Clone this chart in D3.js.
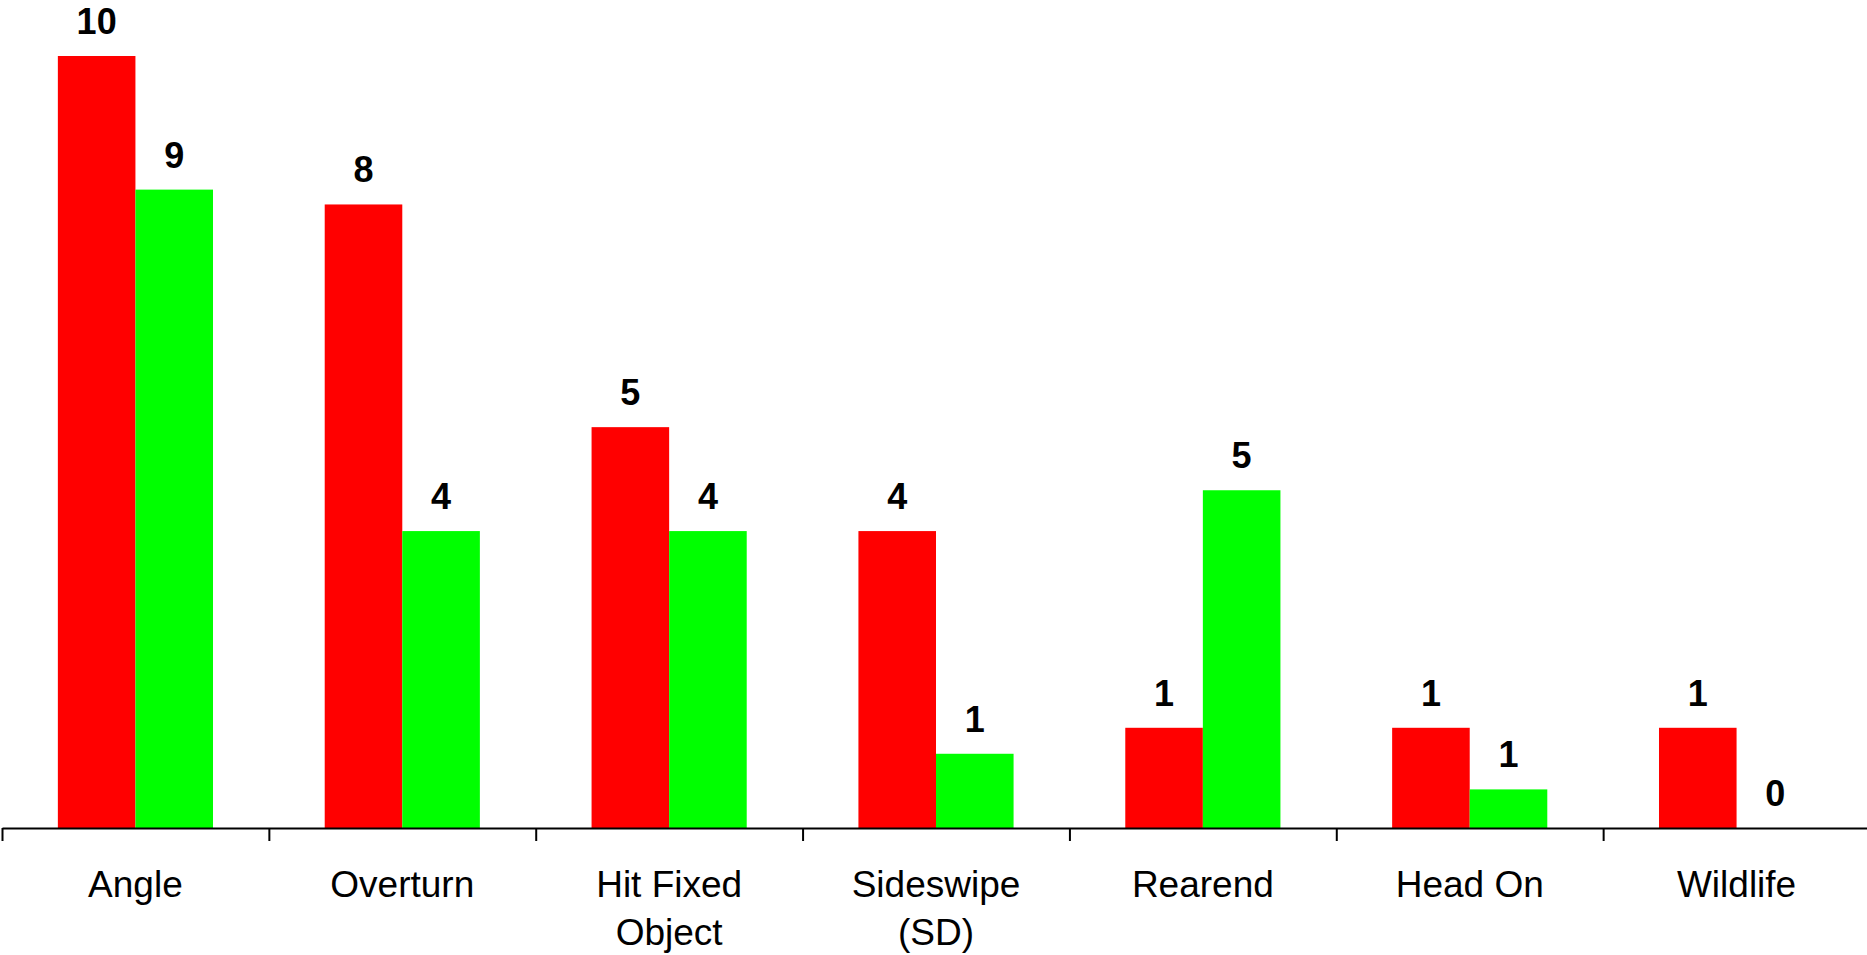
<!DOCTYPE html>
<html>
<head>
<meta charset="utf-8">
<script src="https://cdn.jsdelivr.net/npm/d3@7"></script>
<style>
  body { margin: 0; background: #fff; }
  svg { display: block; font-family: "Liberation Sans", Arial, sans-serif; }
</style>
</head>
<body>
<div id="chart"></div>
<script>
// crash types, two series (red / green)
const categories = ["Angle", "Overturn", "Hit Fixed\nObject", "Sideswipe\n(SD)", "Rearend", "Head On", "Wildlife"];
const seriesNames = ["red", "green"];
const redValues   = [10.4, 8.4, 5.4, 4.0, 1.35, 1.35, 1.35];
const greenValues = [8.6, 4.0, 4.0, 1.0, 4.55, 0.52, 0];
const colors = { red: "#ff0000", green: "#00ff00" };

const width = 1867, height = 955;
const baseY = 828;

const svg = d3.select("#chart").append("svg")
    .attr("width", width)
    .attr("height", height);

let x0 = d3.scaleBand().domain(categories).range([2, 1870]);
let x1 = d3.scaleBand().domain(seriesNames).range([0, x0.bandwidth()]).paddingOuter(0.72);
let y = d3.scaleLinear().domain([0, 10.4]).range([baseY, 56]);

let data = categories.map(function(c, i) {
    return { cat: c, values: [
        { key: "red", value: redValues[i] },
        { key: "green", value: greenValues[i] }
    ]};
});

let groups = svg.selectAll(".grp")
    .data(data)
    .enter().append("g")
    .attr("class", "grp")
    .attr("transform", function(d) { return "translate(" + x0(d.cat) + ",0)"; });

groups.selectAll("rect")
    .data(function(d) { return d.values; })
    .enter().append("rect")
    .attr("x", function(d) { return x1(d.key); })
    .attr("y", function(d) { return y(d.value); })
    .attr("width", x1.bandwidth())
    .attr("height", function(d) { return baseY - y(d.value); })
    .attr("fill", function(d) { return colors[d.key]; });

groups.selectAll(".val")
    .data(function(d) { return d.values; })
    .enter().append("text")
    .attr("class", "val")
    .attr("x", function(d) { return x1(d.key) + x1.bandwidth() / 2; })
    .attr("y", function(d) { return y(d.value) - 22; })
    .attr("text-anchor", "middle")
    .attr("font-size", 36)
    .attr("font-weight", "bold")
    .attr("fill", "#000")
    .text(function(d) { return Math.round(d.value); });

// axis with ticks at category boundaries
let xb = d3.scaleLinear().domain([0, categories.length]).range([2, 1870]);
let axis = svg.append("g")
    .attr("transform", "translate(0," + baseY + ")")
    .call(d3.axisBottom(xb).ticks(categories.length).tickFormat("").tickSize(13).tickSizeOuter(0));
axis.select(".domain").attr("stroke", "#000").attr("stroke-width", 2);
axis.selectAll(".tick line").attr("stroke", "#000").attr("stroke-width", 2);

// category labels
let labels = svg.selectAll(".cat")
    .data(categories)
    .enter().append("text")
    .attr("class", "cat")
    .attr("text-anchor", "middle")
    .attr("font-size", 37)
    .attr("fill", "#000")
    .attr("transform", function(d) { return "translate(" + (x0(d) + x0.bandwidth() / 2) + ",897)"; });

labels.selectAll("tspan")
    .data(function(d) { return d.split("\n"); })
    .enter().append("tspan")
    .attr("x", 0)
    .attr("dy", function(d, i) { return i === 0 ? 0 : 48; })
    .text(function(d) { return d; });
</script>
</body>
</html>
